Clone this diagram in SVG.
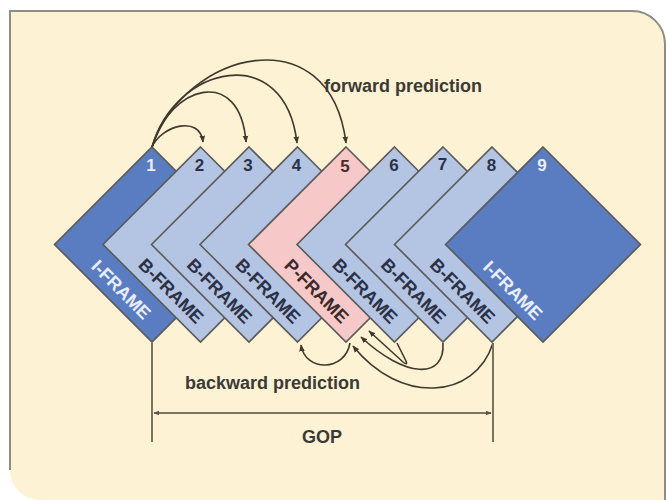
<svg xmlns="http://www.w3.org/2000/svg" width="666" height="500" viewBox="0 0 666 500">
<defs>
<style>
.frame{stroke:#5a5a58;stroke-width:1.6;stroke-linejoin:miter}
.i{fill:#5a7cc0}
.b{fill:#b4c4e3}
.p{fill:#f6c9c8}
.lbl{font-family:"Liberation Sans",Arial,sans-serif;font-weight:bold;font-size:18px;text-anchor:middle}
.num{font-family:"Liberation Sans",Arial,sans-serif;font-weight:bold;font-size:17px;text-anchor:middle}
.dark{fill:#2b3246}
.light{fill:#e9eef8}
.cap{font-family:"Liberation Sans",Arial,sans-serif;font-weight:bold;font-size:18px;fill:#3b3a35}
.arc{fill:none;stroke:#3f3a2c;stroke-width:1.6}
.dim{fill:none;stroke:#7a7360;stroke-width:2}
</style>
<marker id="ah" viewBox="0 0 10 10" refX="9" refY="5" markerWidth="7" markerHeight="7" markerUnits="userSpaceOnUse" orient="auto">
<path d="M0,1 L10,5 L0,9 Z" fill="#3f3a2c"/>
</marker>
<marker id="dh" viewBox="0 0 10 10" refX="9" refY="5" markerWidth="6" markerHeight="6" markerUnits="userSpaceOnUse" orient="auto-start-reverse">
<path d="M0,1 L10,5 L0,9 Z" fill="#5a5446"/>
</marker>
</defs>
<rect width="666" height="500" fill="#ffffff"/>
<path d="M10,470 L10,11 L632,11 A33,33 0 0 1 665,44 L665,500 L40,500 A30,30 0 0 1 10,470 Z" fill="#fdf2d4"/>
<path d="M10,470 L10,11 L632,11 A33,33 0 0 1 665,44 L665,500" fill="none" stroke="#8e8d84" stroke-width="2"/>

<g id="frame1">
<polygon class="frame i" points="152,147 249.5,244.5 152,342 54.5,244.5"/>
<text class="num light" x="151" y="171">1</text>
<text class="lbl light" transform="translate(54.5,244.5) rotate(45)" x="79" y="-9">I-FRAME</text>
</g>
<g id="frame2">
<polygon class="frame b" points="200.5,147 298,244.5 200.5,342 103,244.5"/>
<text class="num dark" x="199.5" y="171">2</text>
<text class="lbl dark" transform="translate(103,244.5) rotate(45)" x="81" y="-9">B-FRAME</text>
</g>
<g id="frame3">
<polygon class="frame b" points="249,147 346.5,244.5 249,342 151.5,244.5"/>
<text class="num dark" x="248" y="171">3</text>
<text class="lbl dark" transform="translate(151.5,244.5) rotate(45)" x="81" y="-9">B-FRAME</text>
</g>
<g id="frame4">
<polygon class="frame b" points="297.5,147 395,244.5 297.5,342 200,244.5"/>
<text class="num dark" x="296.5" y="171">4</text>
<text class="lbl dark" transform="translate(200,244.5) rotate(45)" x="81" y="-9">B-FRAME</text>
</g>
<g id="frame5">
<polygon class="frame p" points="346,147 443.5,244.5 346,342 248.5,244.5"/>
<text class="num" fill="#4a2a2e" x="345" y="172">5</text>
<text class="lbl" fill="#3a2a2c" transform="translate(248.5,244.5) rotate(45)" x="81" y="-9">P-FRAME</text>
</g>
<g id="frame6">
<polygon class="frame b" points="394.5,147 492,244.5 394.5,342 297,244.5"/>
<text class="num dark" x="394" y="171">6</text>
<text class="lbl dark" transform="translate(297,244.5) rotate(45)" x="81" y="-9">B-FRAME</text>
</g>
<g id="frame7">
<polygon class="frame b" points="443,147 540.5,244.5 443,342 345.5,244.5"/>
<text class="num dark" x="442.5" y="170">7</text>
<text class="lbl dark" transform="translate(345.5,244.5) rotate(45)" x="81" y="-9">B-FRAME</text>
</g>
<g id="frame8">
<polygon class="frame b" points="492,147 589.5,244.5 492,342 394.5,244.5"/>
<text class="num dark" x="491.5" y="171">8</text>
<text class="lbl dark" transform="translate(394.5,244.5) rotate(45)" x="81" y="-9">B-FRAME</text>
</g>
<g id="frame9">
<polygon class="frame i" points="543,147 640.5,244.5 543,342 445.5,244.5"/>
<text class="num light" x="542" y="171">9</text>
<text class="lbl light" transform="translate(445.5,244.5) rotate(45)" x="80" y="-9">I-FRAME</text>
</g>

<g id="connectors">
<path class="arc" marker-end="url(#ah)" d="M152,147 C162,125 200,115 203,142"/>
<path class="arc" marker-end="url(#ah)" d="M152,147 C170,85 240,65 246,142"/>
<path class="arc" marker-end="url(#ah)" d="M152,147 C175,65 285,40 297,143"/>
<path class="arc" marker-end="url(#ah)" d="M152,147 C185,50 330,15 346,143"/>
<path class="arc" marker-end="url(#ah)" d="M350,343 C345,372 305,372 301,345"/>
<path class="arc" marker-end="url(#ah)" d="M397,343 L406,361 Q408,366 403,362 L369,331"/>
<path class="arc" marker-end="url(#ah)" d="M443,343 C445,380 405,378 361,337"/>
<path class="arc" marker-end="url(#ah)" d="M493,343 C475,400 400,405 353,346"/>
</g>

<g id="gop">
<line class="dim" x1="152" y1="343" x2="152" y2="442"/>
<line class="dim" x1="493" y1="343" x2="493" y2="442"/>
<line class="dim" x1="154" y1="413" x2="491" y2="413" marker-start="url(#dh)" marker-end="url(#dh)"/>
</g>

<text class="cap" x="324" y="92">forward prediction</text>
<text class="cap" x="185" y="389">backward prediction</text>
<text class="cap" x="322" y="443" text-anchor="middle" font-size="17">GOP</text>
</svg>
